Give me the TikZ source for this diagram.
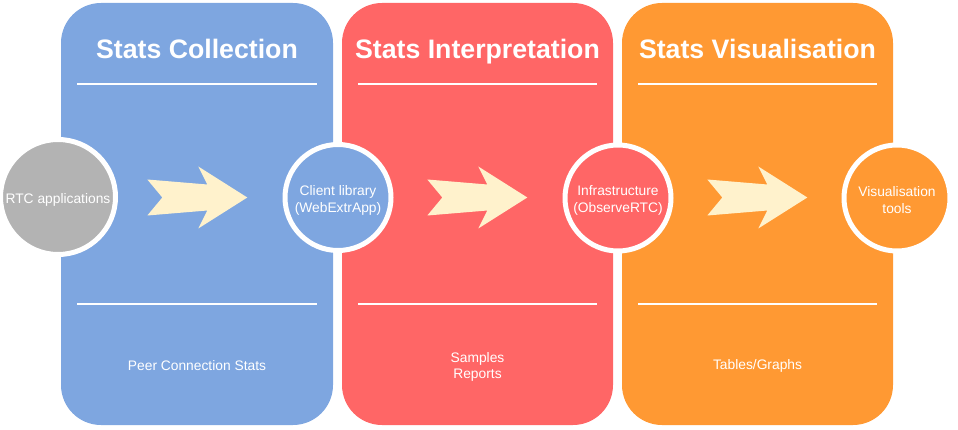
\documentclass[tikz,border=0pt]{standalone}
\usepackage{fontspec}
\setmainfont{Liberation Sans}
\definecolor{colblue}{HTML}{7EA6E0}
\definecolor{colred}{HTML}{FF6666}
\definecolor{colorange}{HTML}{FF9933}
\definecolor{colgray}{HTML}{B3B3B3}
\definecolor{colarrow}{HTML}{FFF2CC}
\tikzset{
  panel/.style={fill=#1, draw=none, rounded corners=40pt},
  divider/.style={draw=white, line width=1.6pt},
  paneltitle/.style={text=white, font=\fontsize{26.7}{30}\selectfont\bfseries, inner sep=0pt, anchor=base},
  smalltext/.style={text=white, font=\fontsize{13.8}{16.5}\selectfont, align=center, inner sep=0pt},
  stagecircle/.style={circle, fill=#1, draw=white, line width=5pt, minimum size=106pt, inner sep=0pt},
  fatarrow/.pic={
    \fill[colarrow] (0,-18) -- (60,-13) -- (51,-31) -- (100,0) -- (51,31) -- (60,13)
      -- (0,18) -- (15,0) -- cycle;
  }
}
\begin{document}
\begin{tikzpicture}[x=1pt, y=-1pt]
\useasboundingbox (0,0) rectangle (958,430);

% three stage panels
\fill[panel=colblue] (61,3) rectangle (333,425);
\fill[panel=colred] (342,3) rectangle (613,425);
\fill[panel=colorange] (622,3) rectangle (893,425);

% dividers
\foreach \l/\r in {61/333, 342/613, 622/893} {
  \draw[divider] (\l+16,84) -- (\r-16,84);
  \draw[divider] (\l+16,304) -- (\r-16,304);
}

% panel titles
\node[paneltitle] (t1) at (197,59) {Stats Collection};
\node[paneltitle] (t2) at (477.5,59) {Stats Interpretation};
\node[paneltitle] (t3) at (757.5,59) {Stats Visualisation};

% panel footers
\node[smalltext] (f1) at (197,366) {Peer Connection Stats};
\node[smalltext] (f2) at (477.5,367) {Samples\\Reports};
\node[smalltext] (f3) at (757.5,365.5) {Tables/Graphs};

% flow arrows
\pic (a1) at (147.3,197.5) {fatarrow};
\pic (a2) at (427.3,197.5) {fatarrow};
\pic (a3) at (707.3,197.5) {fatarrow};

% stage circles
\node[stagecircle=colgray, minimum size=115pt] (rtc) at (58,197) {};
\node[stagecircle=colblue] (client) at (338,197.5) {};
\node[stagecircle=colred] (infra) at (618,198) {};
\node[stagecircle=colorange] (vis) at (897,198) {};

% circle captions
\node[smalltext] (rtc-t) at ([yshift=-3pt]rtc.center) {RTC applications};
\node[smalltext] (client-t) at ([yshift=-3pt]client.center) {Client library\\(WebExtrApp)};
\node[smalltext] (infra-t) at ([yshift=-2.5pt]infra.center) {Infrastructure\\(ObserveRTC)};
\node[smalltext] (vis-t) at ([yshift=-2pt]vis.center) {Visualisation\\tools};
\end{tikzpicture}
\end{document}
